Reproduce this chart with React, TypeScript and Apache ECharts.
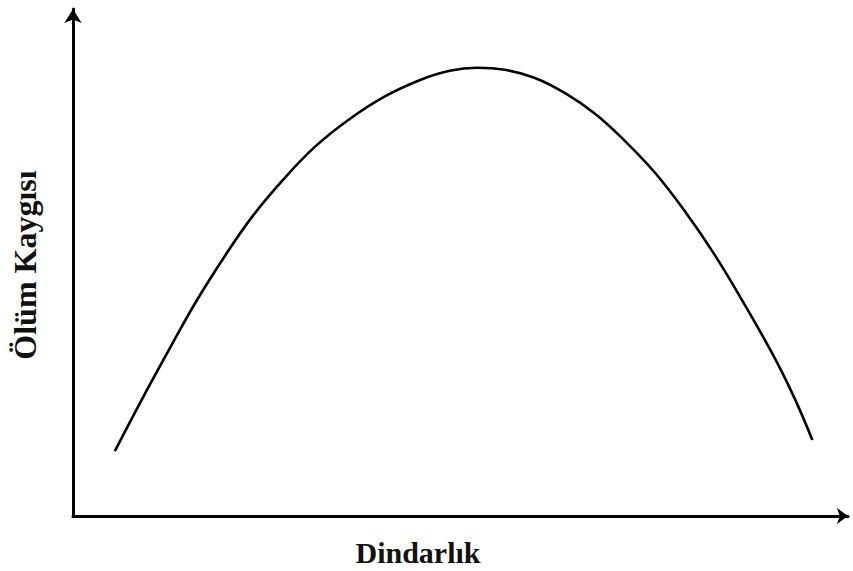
import React, { useEffect, useRef } from "react";
import * as echarts from "echarts";

// Dindarlık (x) values along the curve, 0–100 scale
const religiosity = [5.4, 9.0, 12.5, 16.0, 19.6, 23.2, 27.1, 31.2, 35.7, 40.3, 44.8, 48.6, 52.1, 55.7, 59.6, 63.5, 67.4, 71.2, 75.1, 79.0, 82.8, 86.7, 90.6, 93.2, 95.4];
// Ölüm Kaygısı (y) values along the curve, 0–100 scale
const deathAnxiety = [12.8, 23.3, 33.1, 42.6, 51.3, 59.2, 66.3, 72.8, 78.3, 82.8, 86.0, 87.8, 88.4, 88.0, 86.4, 83.4, 79.3, 74.0, 67.7, 60.0, 51.5, 41.6, 31.0, 22.9, 15.0];

const xTitle = "Dindarlık";
const yTitle = "Ölüm Kaygısı";

export default function App() {
  const ref = useRef<HTMLDivElement>(null);

  useEffect(() => {
    if (!ref.current) return;
    const chart = echarts.init(ref.current, null, { renderer: "svg" });
    const font = "'Liberation Serif', 'Times New Roman', serif";
    chart.setOption({
      animation: false,
      backgroundColor: "#ffffff",
      grid: { left: 73, right: 5, top: 9, bottom: 55 },
      xAxis: {
        type: "value",
        min: 0,
        max: 100,
        axisLine: {
          show: true,
          symbol: ["none", "arrow"],
          symbolSize: [12, 11],
          lineStyle: { color: "#000", width: 3 },
        },
        axisTick: { show: false },
        axisLabel: { show: false },
        splitLine: { show: false },
      },
      yAxis: {
        type: "value",
        min: 0,
        max: 100,
        axisLine: {
          show: true,
          symbol: ["none", "arrow"],
          symbolSize: [13, 14],
          lineStyle: { color: "#000", width: 3 },
        },
        axisTick: { show: false },
        axisLabel: { show: false },
        splitLine: { show: false },
      },
      series: [
        {
          type: "line",
          data: religiosity.map((x, i) => [x, deathAnxiety[i]]),
          smooth: 0.4,
          showSymbol: false,
          lineStyle: { color: "#000", width: 2.6 },
        },
      ],
      graphic: [
        {
          type: "text",
          x: 418,
          y: 552,
          style: {
            text: xTitle,
            font: `bold 30px ${font}`,
            fill: "#111",
            textAlign: "center",
            textVerticalAlign: "middle",
          },
        },
        {
          type: "text",
          x: 25,
          y: 265,
          rotation: Math.PI / 2,
          style: {
            text: yTitle,
            font: `bold 32px ${font}`,
            fill: "#111",
            textAlign: "center",
            textVerticalAlign: "middle",
          },
        },
      ],
    });
    return () => chart.dispose();
  }, []);

  return (
    <div
      ref={ref}
      style={{ position: "fixed", left: 0, top: 0, width: 853, height: 571, background: "#fff" }}
    />
  );
}
